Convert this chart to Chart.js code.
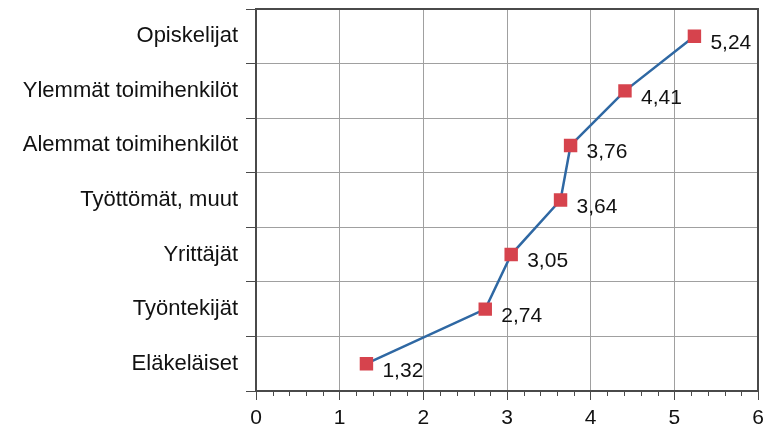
<!DOCTYPE html>
<html lang="fi">
<head>
    <meta charset="UTF-8">
    <title>Ryhmät</title>
    <script src="https://cdn.jsdelivr.net/npm/chart.js"></script>
    <style>
        body { margin: 0; background: #fff; }
        canvas { display: block; }
    </style>
</head>
<body>
<canvas id="chart" width="764" height="428"></canvas>
<script>
    const categories = ['Opiskelijat', 'Ylemmät toimihenkilöt', 'Alemmat toimihenkilöt', 'Työttömät, muut', 'Yrittäjät', 'Työntekijät', 'Eläkeläiset'];
    const values = [5.24, 4.41, 3.76, 3.64, 3.05, 2.74, 1.32];
    const xMin = 0;
    const xMax = 6;

    const family = 'Liberation Sans, Arial, sans-serif';
    const catFont = { family: family, size: 22 };
    const numFont = { family: family, size: 21 };

    // rama, pienet asteikkoviivat ja arvot pisteiden viereen
    const extras = {
        id: 'extras',
        beforeDatasetsDraw(chart) {
            const { ctx, chartArea: a, scales } = chart;
            ctx.save();
            ctx.strokeStyle = '#4a4a4a';
            ctx.lineWidth = 2;
            ctx.strokeRect(a.left, a.top, a.right - a.left, a.bottom - a.top);
            ctx.lineWidth = 1;
            for (let v = xMin; v <= xMax + 0.001; v += 0.2) {
                if (Math.abs(v - Math.round(v)) < 0.01) continue;
                const px = Math.round(scales.x.getPixelForValue(v)) + 0.5;
                ctx.beginPath();
                ctx.moveTo(px, a.bottom);
                ctx.lineTo(px, a.bottom + 5);
                ctx.stroke();
            }
            ctx.restore();
        },
        afterDatasetsDraw(chart) {
            const { ctx } = chart;
            const meta = chart.getDatasetMeta(0);
            ctx.save();
            ctx.font = numFont.size + 'px ' + family;
            ctx.fillStyle = '#111';
            ctx.textAlign = 'left';
            ctx.textBaseline = 'middle';
            meta.data.forEach((pt, i) => {
                ctx.fillText(values[i].toFixed(2).replace('.', ','), pt.x + 16, pt.y + 7);
            });
            ctx.restore();
        }
    };

    new Chart(document.getElementById('chart'), {
        type: 'line',
        data: {
            labels: categories,
            datasets: [{
                data: values,
                borderColor: '#2f68a3',
                borderWidth: 2.5,
                tension: 0,
                pointStyle: 'rect',
                pointRadius: 9.5,
                pointBackgroundColor: '#d6434d',
                pointBorderWidth: 0
            }]
        },
        options: {
            indexAxis: 'y',
            responsive: false,
            animation: false,
            layout: { autoPadding: false, padding: { top: 9, right: 6, left: 0, bottom: 0 } },
            plugins: {
                legend: { display: false },
                tooltip: { enabled: false }
            },
            scales: {
                x: {
                    type: 'linear',
                    min: xMin,
                    max: xMax,
                    ticks: { stepSize: 1, font: numFont, color: '#111', padding: 6 },
                    grid: { color: '#a0a0a0', tickColor: '#4a4a4a', tickLength: 9 },
                    border: { display: false },
                    afterFit(scale) {
                        scale.height = 37;
                        scale.paddingLeft = 0;
                        scale.paddingRight = 0;
                    }
                },
                y: {
                    type: 'category',
                    offset: true,
                    ticks: { font: catFont, color: '#111', padding: 8 },
                    grid: { offset: true, color: '#a0a0a0', tickColor: '#4a4a4a', tickLength: 10 },
                    border: { display: false },
                    afterFit(scale) {
                        scale.width = 256;
                        scale.paddingTop = 0;
                        scale.paddingBottom = 0;
                    }
                }
            }
        },
        plugins: [extras]
    });
</script>
</body>
</html>
